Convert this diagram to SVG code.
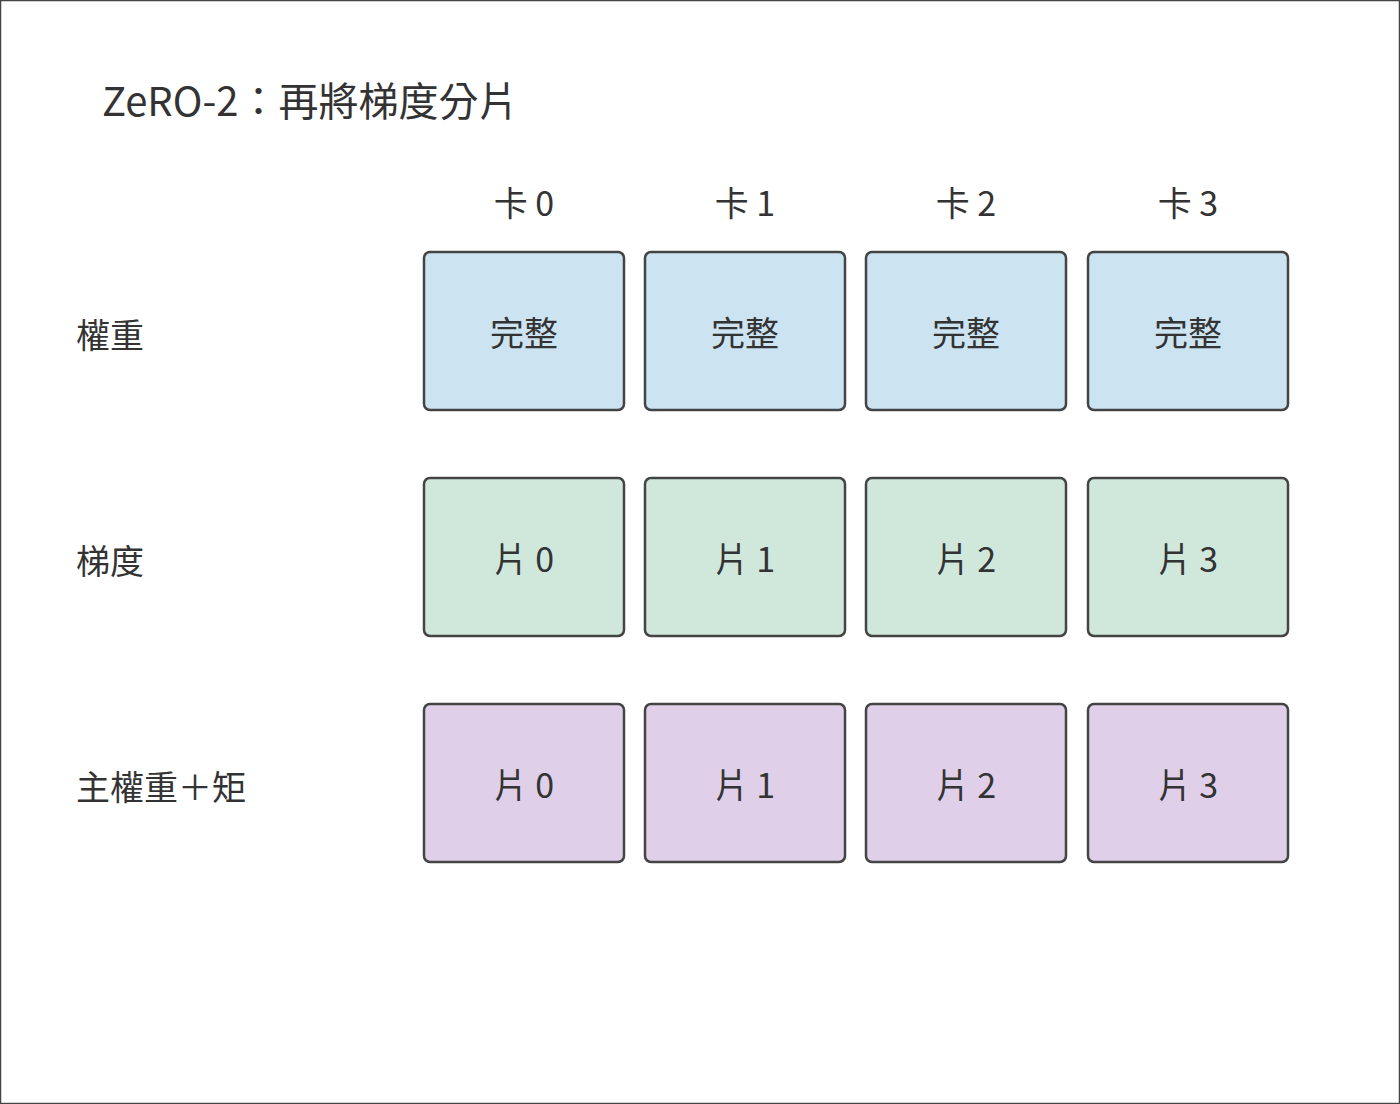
<svg xmlns="http://www.w3.org/2000/svg" width="1400" height="1104" viewBox="0 0 1400 1104">
<style>
text{font-family:"Noto Sans CJK TC","Noto Sans CJK SC",sans-serif;fill:#333}
.t{font-size:40px}
.h,.l,.b{font-size:34px}
.h,.b{text-anchor:middle}
.b{dominant-baseline:central}
rect{stroke:#444;stroke-width:2.5}
.w{fill:#cce3f2}.g{fill:#d0e8dc}.p{fill:#dfcfe8}
</style>
<rect width="1400" height="1104" fill="#fff" stroke="none"/>
<text class="t" x="102" y="116">ZeRO-2：再將梯度分片</text>
<g id="headers">
<text class="h" x="524" y="216">卡 0</text>
<text class="h" x="745" y="216">卡 1</text>
<text class="h" x="966" y="216">卡 2</text>
<text class="h" x="1188" y="216">卡 3</text>
</g>
<g id="rowlabels">
<text class="l" x="76" y="348">權重</text>
<text class="l" x="76" y="574">梯度</text>
<text class="l" x="76" y="800">主權重＋矩</text>
</g>
<g id="w0"><rect class="w" x="424" y="252" width="200" height="158" rx="6"/><text class="b" x="524" y="331">完整</text></g>
<g id="w1"><rect class="w" x="645" y="252" width="200" height="158" rx="6"/><text class="b" x="745" y="331">完整</text></g>
<g id="w2"><rect class="w" x="866" y="252" width="200" height="158" rx="6"/><text class="b" x="966" y="331">完整</text></g>
<g id="w3"><rect class="w" x="1088" y="252" width="200" height="158" rx="6"/><text class="b" x="1188" y="331">完整</text></g>
<g id="g0"><rect class="g" x="424" y="478" width="200" height="158" rx="6"/><text class="b" x="524" y="557">片 0</text></g>
<g id="g1"><rect class="g" x="645" y="478" width="200" height="158" rx="6"/><text class="b" x="745" y="557">片 1</text></g>
<g id="g2"><rect class="g" x="866" y="478" width="200" height="158" rx="6"/><text class="b" x="966" y="557">片 2</text></g>
<g id="g3"><rect class="g" x="1088" y="478" width="200" height="158" rx="6"/><text class="b" x="1188" y="557">片 3</text></g>
<g id="p0"><rect class="p" x="424" y="704" width="200" height="158" rx="6"/><text class="b" x="524" y="783">片 0</text></g>
<g id="p1"><rect class="p" x="645" y="704" width="200" height="158" rx="6"/><text class="b" x="745" y="783">片 1</text></g>
<g id="p2"><rect class="p" x="866" y="704" width="200" height="158" rx="6"/><text class="b" x="966" y="783">片 2</text></g>
<g id="p3"><rect class="p" x="1088" y="704" width="200" height="158" rx="6"/><text class="b" x="1188" y="783">片 3</text></g>
<g id="connectors"/>
</svg>
